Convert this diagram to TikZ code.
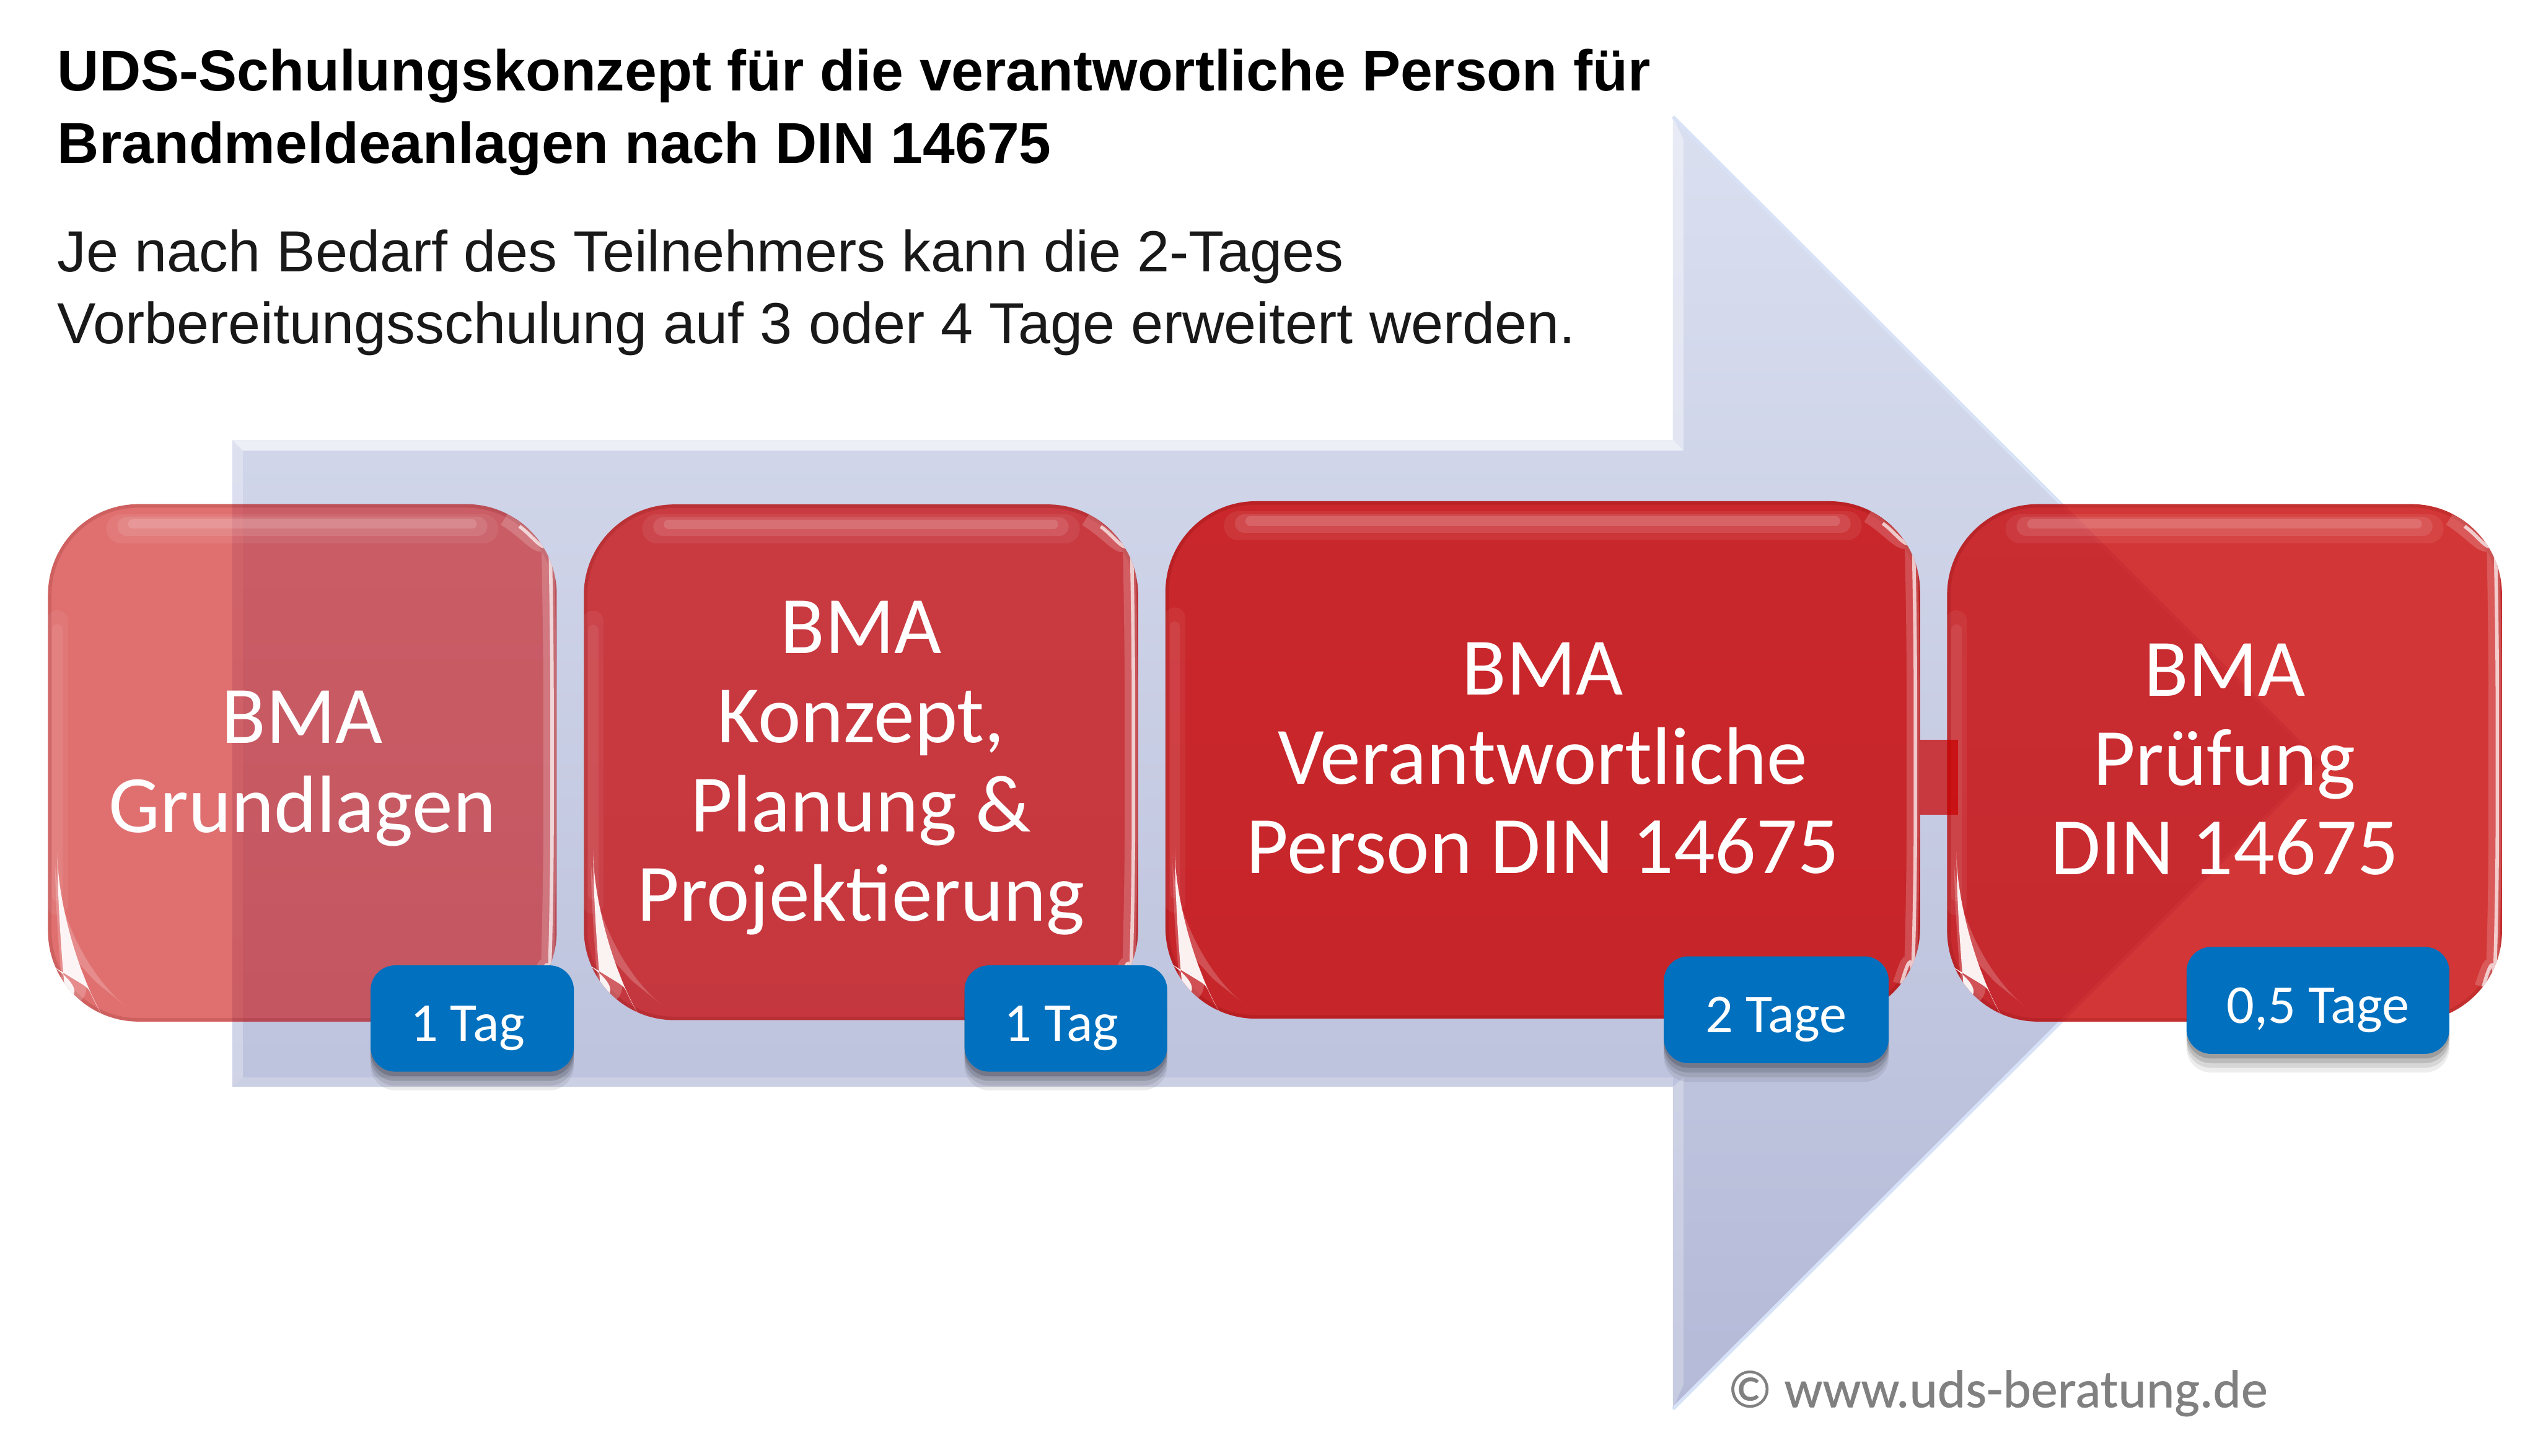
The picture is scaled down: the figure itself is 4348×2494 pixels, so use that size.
\documentclass[tikz,border=0pt]{standalone}
\usepackage{fontspec}
\setmainfont{Liberation Sans}
\newfontfamily\calfont{Carlito}
\newfontfamily\credfont[FakeBold=0.6]{Carlito}
\usetikzlibrary{calc}
\definecolor{boxred}{HTML}{C80000}
\definecolor{tagblue}{HTML}{0070BF}
\definecolor{arrowtop}{RGB}{218,223,240}
\definecolor{arrowbot}{RGB}{180,186,215}
\definecolor{arrowedge}{RGB}{216,226,247}
\newcommand{\topstrut}{\rule{0pt}{31pt}}
\newcommand{\glossbox}{%
  \coordinate (nw) at (path picture bounding box.north west);
  \coordinate (ne) at (path picture bounding box.north east);
  \coordinate (sw) at (path picture bounding box.south west);
  \coordinate (se) at (path picture bounding box.south east);
  % top rim and highlight band
  \draw[black!50!boxred,draw opacity=.14,line width=.12cm,rounded corners=1.55cm] (nw) rectangle (se);
  \draw[white,draw opacity=.07,line width=.50cm,line cap=round] ($(nw)+(125,42)$) -- ($(ne)+(-125,42)$);
  \draw[white,draw opacity=.10,line width=.32cm,line cap=round] ($(nw)+(135,38)$) -- ($(ne)+(-135,38)$);
  \draw[white,draw opacity=.14,line width=.16cm,line cap=round] ($(nw)+(145,34)$) -- ($(ne)+(-145,34)$);
  % left band
  \draw[white,draw opacity=.06,line width=.36cm,line cap=round] ($(nw)+(16,200)$) -- ($(sw)+(16,-200)$);
  \draw[white,draw opacity=.07,line width=.18cm,line cap=round] ($(nw)+(16,215)$) -- ($(sw)+(16,-215)$);
  % right rim
  \draw[white,draw opacity=.18,line width=.22cm] ($(ne)+(-90,26)$) .. controls ($(ne)+(-40,56)$) and ($(ne)+(-14,110)$) .. ($(ne)+(-12,180)$) -- ($(se)+(-12,-180)$) .. controls ($(se)+(-14,-130)$) and ($(se)+(-22,-100)$) .. ($(se)+(-36,-60)$);
  \draw[white,draw opacity=.70,line width=.06cm] ($(ne)+(-64,38)$) .. controls ($(ne)+(-32,60)$) and ($(ne)+(-10,110)$) .. ($(ne)+(-8,180)$) -- ($(se)+(-8,-180)$) .. controls ($(se)+(-10,-130)$) and ($(se)+(-20,-100)$) .. ($(se)+(-32,-60)$);
  % bottom-left crescent
  \fill[white,fill opacity=.20] ($(sw)+(12,-125)$) .. controls ($(sw)+(22,-58)$) and ($(sw)+(70,-14)$) .. ($(sw)+(140,-10)$) .. controls ($(sw)+(105,-46)$) and ($(sw)+(55,-90)$) .. cycle;
  \fill[white,fill opacity=.92] ($(sw)+(16,-135)$) .. controls ($(sw)+(26,-62)$) and ($(sw)+(70,-24)$) .. ($(sw)+(128,-18)$) .. controls ($(sw)+(100,-36)$) and ($(sw)+(50,-80)$) .. cycle;
}
\tikzset{
  x=0.01cm, y=-0.01cm,
  redbox/.style={rectangle,draw=none,fill=boxred,rounded corners=1.55cm,inner sep=0pt,
    text=white,text opacity=1,align=center,font=\calfont\fontsize{39.7}{43.5}\selectfont,
    path picture={\glossbox}},
  tagbox/.style={rectangle,rounded corners=.42cm,inner sep=0pt,fill=tagblue,text=white,
    text height=27pt,text depth=5pt,
    font=\calfont\fontsize{26.7}{30}\selectfont,
    preaction={fill=black,fill opacity=.07,transform canvas={yshift=-.32cm}},
    preaction={fill=black,fill opacity=.09,transform canvas={yshift=-.24cm}},
    preaction={fill=black,fill opacity=.12,transform canvas={yshift=-.16cm}},
    preaction={fill=black,fill opacity=.16,transform canvas={yshift=-.08cm}}},
  linkbar/.style={draw=boxred,draw opacity=.72,line width=1.28cm,shorten >=-.19cm},
  titletext/.style={anchor=base west,inner sep=0pt,text=black,font=\bfseries\fontsize{28.1}{36}\selectfont},
  bodytext/.style={anchor=base west,inner sep=0pt,text=black!90,font=\fontsize{28.25}{36}\selectfont},
  creditext/.style={anchor=base west,inner sep=0pt,text=black!50,font=\credfont\fontsize{26.05}{30}\selectfont},
}
\begin{document}
\begin{tikzpicture}
\useasboundingbox (0,0) rectangle (4348,2494);
\fill[white] (0,0) rectangle (4348,2494);
% big arrow
\shade[top color=arrowtop, bottom color=arrowbot]
  (398,754) -- (2866,754) -- (2866,200) -- (3975,1307) -- (2866,2414) -- (2866,1862) -- (398,1862) -- cycle;
% arrow bevel strips
\fill[white,fill opacity=.62] (398,754) -- (2866,754) -- (2884,772) -- (416,772) -- cycle;
\fill[white,fill opacity=.28] (398,754) -- (416,772) -- (416,1846) -- (398,1862) -- cycle;
\fill[white,fill opacity=.22] (398,1862) -- (416,1846) -- (2866,1846) -- (2866,1862) -- cycle;
\fill[white,fill opacity=.40] (2866,754) -- (2884,772) -- (2884,240) -- (2866,200) -- cycle;
\fill[white,fill opacity=.25] (2866,1862) -- (2884,1846) -- (2884,2372) -- (2866,2414) -- cycle;
\draw[arrowedge,line width=.06cm] (2866,200) -- (3975,1307) -- (2866,2414);
% title and body
\node[titletext] (t1) at (98,155) {UDS-Schulungskonzept für die verantwortliche Person für};
\node[titletext] (t2) at (98,280) {Brandmeldeanlagen nach DIN 14675};
\node[bodytext] (b1) at (98,466) {Je nach Bedarf des Teilnehmers kann die 2-Tages};
\node[bodytext] (b2) at (98,589) {Vorbereitungsschulung auf 3 oder 4 Tage erweitert werden.};
% red boxes
\node[redbox,fill opacity=.56,minimum width=8.71cm,minimum height=8.86cm] (g1) at (518,1307) {\topstrut BMA\\Grundlagen};
\node[redbox,fill opacity=.72,minimum width=9.49cm,minimum height=8.83cm] (g2) at (1475,1306) {\topstrut BMA\\Konzept,\\Planung \&\\Projektierung};
\node[redbox,fill opacity=.81,minimum width=12.92cm,minimum height=8.86cm] (g3) at (2643,1302) {BMA\\Verantwortliche\\Person DIN 14675\rule[-2pt]{0pt}{2pt}};
\node[redbox,fill opacity=.79,minimum width=9.50cm,minimum height=8.86cm] (g4) at (3811,1307) {BMA\\Prüfung\\DIN 14675\rule[-3.5pt]{0pt}{3.5pt}};
% small link between box 3 and box 4
\coordinate (la) at ($(g3.east)+(0,30)$);
\coordinate (lb) at ($(g4.west)+(0,25)$);
\draw[linkbar] (la) -- (lb);
% duration tags
\node[tagbox,minimum width=3.48cm,minimum height=1.82cm] (d1) at (809,1745) {1 Tag\hspace{4.5pt}\mbox{}};
\node[tagbox,minimum width=3.47cm,minimum height=1.82cm] (d2) at (1826,1745) {1 Tag\hspace{4.5pt}\mbox{}};
\node[tagbox,minimum width=3.85cm,minimum height=1.83cm] (d3) at (3043,1730) {2 Tage};
\node[tagbox,minimum width=4.50cm,minimum height=1.83cm] (d4) at (3971,1714) {0,5 Tage};
% credit
\node[creditext] (c) at (2959,2411) {© www.uds-beratung.de};
\end{tikzpicture}
\end{document}
